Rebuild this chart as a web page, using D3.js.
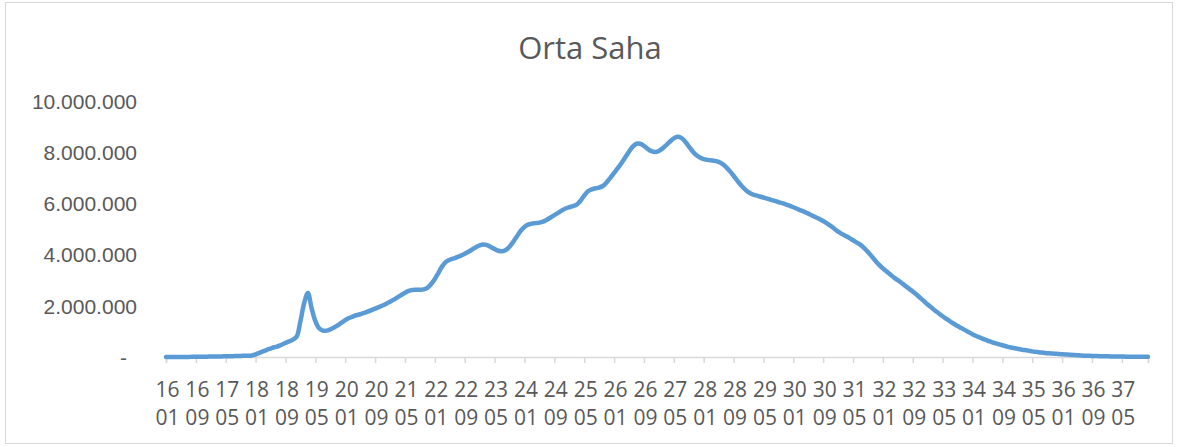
<!DOCTYPE html>
<meta charset="utf-8">
<style>
body { margin: 0; background: #fff; }
svg { font-family: "Open Sans", sans-serif; }
.axis text { fill: #595959; font-size: 21px; }
.title { fill: #595959; font-size: 31px; }
.line { fill: none; stroke: #5b9bd5; stroke-width: 4.5px; stroke-linejoin: round; stroke-linecap: round; }
</style>
<body>
<div id="chart"></div>
<script src="https://cdn.jsdelivr.net/npm/d3@7"></script>
<script>
var title = "Orta Saha";
var startYear = 2016, startMonth = 1, monthCount = 264;
var labelEvery = 8;
var yTicks = [0, 2000000, 4000000, 6000000, 8000000, 10000000];

// monthly values, in millions
var orta = [
  0.00, 0.00, 0.00, 0.00, 0.00, 0.00, 0.00, 0.01, 0.01, 0.01, 0.01, 0.01,
  0.02, 0.02, 0.02, 0.02, 0.03, 0.03, 0.03, 0.04, 0.04, 0.05, 0.05, 0.06,
  0.10, 0.16, 0.22, 0.28, 0.33, 0.38, 0.42, 0.48, 0.55, 0.61, 0.68, 0.80,
  1.40, 2.10, 2.50, 1.90, 1.40, 1.12, 1.03, 1.03, 1.08, 1.15, 1.24, 1.34,
  1.44, 1.52, 1.58, 1.63, 1.67, 1.72, 1.77, 1.83, 1.89, 1.95, 2.01, 2.08,
  2.16, 2.24, 2.33, 2.42, 2.51, 2.58, 2.62, 2.63, 2.63, 2.64, 2.70, 2.85,
  3.05, 3.30, 3.55, 3.72, 3.80, 3.85, 3.90, 3.96, 4.03, 4.11, 4.20, 4.29,
  4.36, 4.39, 4.37, 4.30, 4.22, 4.15, 4.13, 4.18, 4.31, 4.50, 4.72, 4.93,
  5.08, 5.17, 5.21, 5.23, 5.25, 5.29, 5.36, 5.45, 5.54, 5.63, 5.72, 5.80,
  5.85, 5.89, 5.95, 6.10, 6.30, 6.47, 6.55, 6.59, 6.62, 6.68, 6.82, 7.00,
  7.19, 7.38, 7.58, 7.80, 8.02, 8.22, 8.33, 8.33, 8.25, 8.13, 8.04, 8.01,
  8.05, 8.15, 8.28, 8.42, 8.54, 8.60, 8.56, 8.42, 8.23, 8.04, 7.89, 7.79,
  7.73, 7.70, 7.68, 7.66, 7.62, 7.54, 7.42, 7.26, 7.08, 6.89, 6.71, 6.56,
  6.44, 6.36, 6.31, 6.27, 6.23, 6.19, 6.14, 6.10, 6.05, 6.01, 5.96, 5.91,
  5.85, 5.79, 5.73, 5.67, 5.60, 5.53, 5.46, 5.39, 5.31, 5.22, 5.12, 5.01,
  4.90, 4.81, 4.73, 4.65, 4.56, 4.47, 4.38, 4.25, 4.10, 3.93, 3.76, 3.60,
  3.46, 3.34, 3.22, 3.10, 3.00, 2.89, 2.78, 2.67, 2.56, 2.44, 2.31, 2.18,
  2.05, 1.93, 1.81, 1.70, 1.59, 1.49, 1.39, 1.30, 1.21, 1.13, 1.05, 0.97,
  0.89, 0.82, 0.76, 0.70, 0.64, 0.59, 0.54, 0.50, 0.46, 0.42, 0.38, 0.35,
  0.32, 0.29, 0.27, 0.25, 0.22, 0.20, 0.18, 0.17, 0.15, 0.14, 0.13, 0.12,
  0.11, 0.10, 0.09, 0.08, 0.07, 0.06, 0.05, 0.05, 0.04, 0.04, 0.03, 0.03,
  0.03, 0.02, 0.02, 0.02, 0.02, 0.01, 0.01, 0.01, 0.01, 0.01, 0.01, 0.01
];

// category labels "YY MM"
var categories = [];
for (var i = 0; i < monthCount; i++) {
  var m = startMonth - 1 + i;
  var yy = String((startYear + Math.floor(m / 12)) % 100).padStart(2, "0");
  var mm = String(m % 12 + 1).padStart(2, "0");
  categories.push(yy + " " + mm);
}

var width = 1178, height = 447;
var tr = d3.formatLocale({decimal: ",", thousands: ".", grouping: [3], currency: ["", ""]});
var fmt = tr.format(",.0f");

var svg = d3.select("#chart").append("svg")
  .attr("width", width)
  .attr("height", height);

svg.append("rect")
  .attr("x", 5.5).attr("y", 2.5)
  .attr("width", 1167).attr("height", 441)
  .attr("fill", "#fff")
  .attr("stroke", "#d9d9d9");

svg.append("text")
  .attr("class", "title")
  .attr("x", 590).attr("y", 59)
  .attr("text-anchor", "middle")
  .text(title);

var x = d3.scalePoint().domain(d3.range(monthCount)).range([166, 1148]);
var y = d3.scaleLinear().domain([0, 10000000]).range([357, 101]);

// y axis labels
var yAxis = d3.axisLeft(y).tickValues(yTicks).tickSize(0).tickPadding(0)
  .tickFormat(function(d) { return d === 0 ? "-" : fmt(d); });
var gy = svg.append("g").attr("class", "axis")
  .attr("transform", "translate(137,0)")
  .call(yAxis);
gy.select(".domain").remove();
gy.selectAll("text").attr("dy", "0.35em")
  .attr("dx", function(d) { return d === 0 ? -10 : 0; });

// x axis
var tickIdx = d3.range(0, monthCount, labelEvery).concat([monthCount - 1]);
var xAxis = d3.axisBottom(x).tickValues(tickIdx).tickSize(6).tickFormat("");
var gx = svg.append("g").attr("class", "axis")
  .attr("transform", "translate(0,357)")
  .call(xAxis);
gx.select(".domain").attr("stroke", "#d9d9d9").attr("stroke-width", 1.5);
gx.selectAll(".tick line").attr("stroke", "#d9d9d9").attr("stroke-width", 1.5);

var labels = svg.append("g").attr("class", "axis")
  .selectAll("text")
  .data(d3.range(0, monthCount, labelEvery).filter(function(i) { return i < monthCount - 4; }))
  .enter().append("text")
  .attr("text-anchor", "middle")
  .attr("transform", function(i) { return "translate(" + (x(i) + 1.5) + ",0)"; });
labels.append("tspan").attr("x", 0).attr("y", 396.5)
  .text(function(i) { return categories[i].split(" ")[0]; });
labels.append("tspan").attr("x", 0).attr("y", 424.5)
  .text(function(i) { return categories[i].split(" ")[1]; });

var line = d3.line()
  .x(function(d, i) { return x(i); })
  .y(function(d) { return y(d * 1000000); })
  .curve(d3.curveCatmullRom);

svg.append("path")
  .datum(orta)
  .attr("class", "line")
  .attr("d", line);
</script>
</body>
